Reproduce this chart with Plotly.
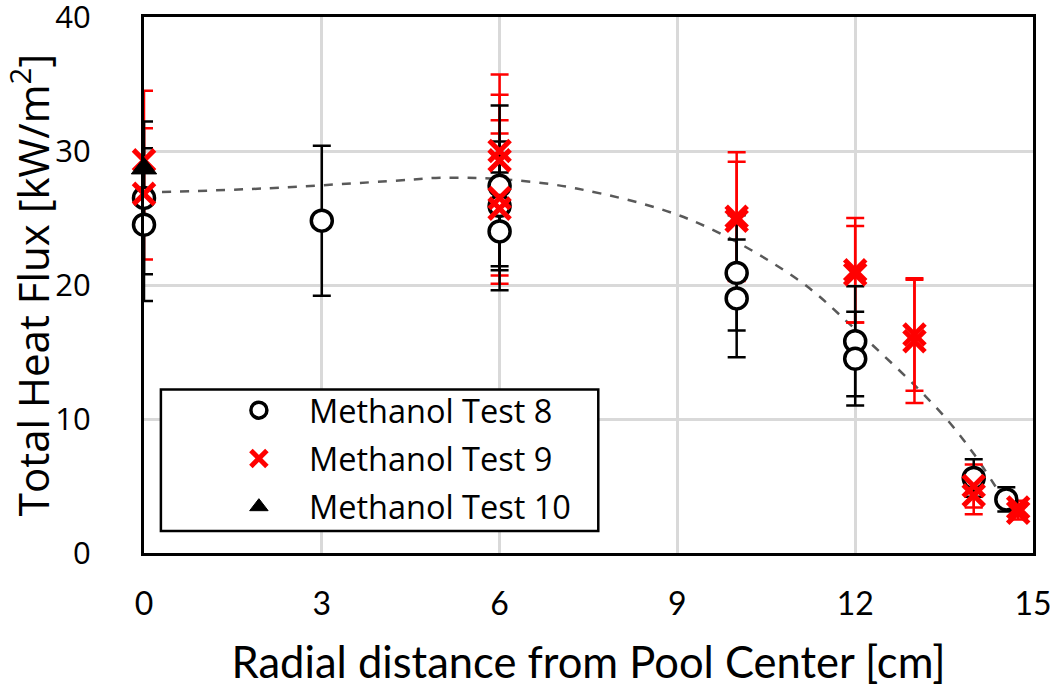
import plotly.graph_objects as go

# ---- data ----
x8 = [0, 0, 3, 6, 6, 6, 10, 10, 12, 12, 14, 14.55]
y8 = [26.5, 24.5, 24.8, 27.4, 25.9, 24.0, 20.9, 19.0, 15.8, 14.5, 5.6, 4.0]
e8 = [5.7, 5.7, 5.6, 6.0, 4.8, 4.4, 4.3, 4.4, 4.1, 3.5, 1.4, 0.9]

x9 = [0, 0, 6, 6, 6, 6, 10, 10, 12, 12, 13, 13, 14, 14, 14.75, 14.75]
y9 = [29.3, 26.8, 30.0, 29.3, 26.5, 25.7, 25.1, 24.8, 21.1, 20.8, 16.3, 15.8, 5.0, 4.3, 3.4, 3.0]
e9 = [5.2, 4.9, 5.7, 4.9, 5.8, 5.6, 4.8, 4.4, 3.9, 3.6, 4.2, 4.6, 1.6, 1.4, 0.5, 0.5]

x10 = [0]
y10 = [28.7]

fit_x = [0, 2, 4.3, 5, 6, 7.3, 9.2, 11, 12, 13.4, 14, 14.7]
fit_y = [26.9, 27.2, 27.8, 28.0, 27.9, 27.2, 24.9, 20.5, 16.7, 10.7, 7.4, 2.6]

x_ticks = [0, 3, 6, 9, 12, 15]
y_ticks = [0, 10, 20, 30, 40]

names = ["Methanol Test 8", "Methanol Test 9", "Methanol Test 10"]

RED = "#ff0000"
FONT_Y = "Open Sans, Noto Sans, sans-serif"
FONT_X = "Lato, sans-serif"

fig = go.Figure()

# fitted trend
fig.add_trace(go.Scatter(x=fit_x, y=fit_y, mode="lines", line=dict(color="#595959", width=2.5, dash="dash", shape="spline"),
                         showlegend=False, hoverinfo="skip", cliponaxis=False))

# Test 9 error bars (under the circles)
fig.add_trace(go.Scatter(x=x9, y=y9, mode="markers", marker=dict(color="rgba(0,0,0,0)", size=1),
                         error_y=dict(type="data", array=e9, color=RED, thickness=2.5, width=9),
                         showlegend=False, hoverinfo="skip", cliponaxis=False))

# Test 8 circles
fig.add_trace(go.Scatter(x=x8, y=y8, mode="markers", name=names[0], legendgroup="a", cliponaxis=False,
                         marker=dict(symbol="circle", size=21, color="white", line=dict(color="black", width=3.5)),
                         error_y=dict(type="data", array=e8, color="black", thickness=2.5, width=9)))

# Test 9 crosses
fig.add_trace(go.Scatter(x=x9, y=y9, mode="markers", name=names[1], legendgroup="b", cliponaxis=False,
                         marker=dict(symbol="x-thin-open", size=21, color=RED, line=dict(color=RED, width=5))))

# Test 10 triangle
fig.add_trace(go.Scatter(x=x10, y=y10, mode="markers", name=names[2], legendgroup="c", cliponaxis=False,
                         marker=dict(symbol="triangle-up", size=22, color="black", line=dict(color="black", width=1))))

# legend frame
fig.add_shape(type="rect", xref="paper", yref="paper", x0=0.019, x1=0.511, y0=0.041, y1=0.305,
              line=dict(color="black", width=2.5), fillcolor="white", layer="above")

fig.update_layout(
    width=1050, height=693,
    margin=dict(l=144, r=17, t=17, b=140),
    paper_bgcolor="white", plot_bgcolor="white",
    font=dict(family=FONT_Y, color="black", size=28),
    legend=dict(x=0.073, y=0.318, xanchor="left", yanchor="top", bgcolor="rgba(0,0,0,0)",
                borderwidth=0, font=dict(family=FONT_Y, size=32.5), itemwidth=90,
                tracegroupgap=3, traceorder="grouped"),
    xaxis=dict(range=[0, 15], tickvals=x_ticks, ticktext=[str(v) for v in x_ticks],
               showgrid=True, gridcolor="#d9d9d9", gridwidth=2.5, zeroline=False, automargin=False,
               showline=True, linecolor="black", linewidth=3, mirror=True, ticks="",
               ticklabeloverflow="allow",
               tickfont=dict(family=FONT_X, size=32), ticklabelstandoff=21,
               title=dict(text="Radial distance from Pool Center [cm]", font=dict(family=FONT_X, size=43.5), standoff=27)),
    yaxis=dict(range=[0, 40], tickvals=y_ticks, showgrid=True, gridcolor="#d9d9d9", gridwidth=2.5, zeroline=False,
               automargin=False, ticklabeloverflow="allow",
               showline=True, linecolor="black", linewidth=3, mirror=True, ticks="",
               tickfont=dict(family=FONT_Y, size=31), ticklabelstandoff=44,
               title=dict(text="Total Heat Flux [kW/m<sup>2</sup>]", font=dict(family=FONT_Y, size=42), standoff=17)),
)

fig.write_html("out.html", post_script="document.body.style.margin='0';",
               config={"displayModeBar": False})
